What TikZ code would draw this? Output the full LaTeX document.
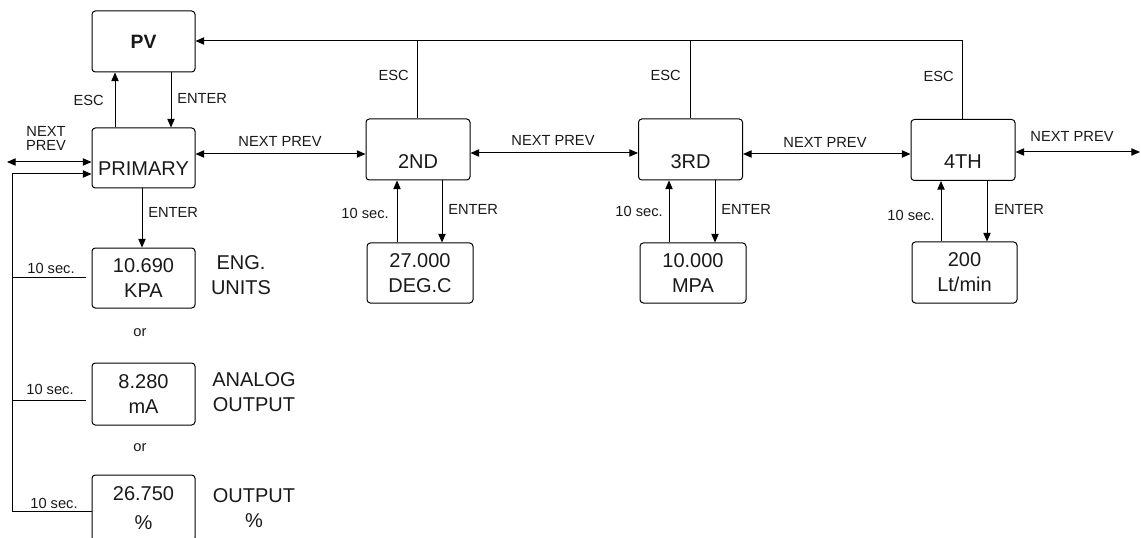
\documentclass[tikz,border=0pt]{standalone}
\usepackage{fontspec}
\setmainfont{Liberation Sans}
\usetikzlibrary{arrows.meta}
\begin{document}
\begin{tikzpicture}[x=0.75pt,y=-0.75pt,
  every node/.style={text=black!90},
  bx/.style={draw, rounded corners=2.5pt, line width=0.75pt, inner sep=0pt, font=\fontsize{15}{18.75}\selectfont, align=center},
  navbox/.style={bx, minimum width=78pt, minimum height=45.75pt, text height=28pt, text depth=0pt},
  valbox/.style={bx, minimum width=77.25pt, minimum height=45pt},
  lbl/.style={font=\fontsize{11}{13}\selectfont, inner sep=0pt},
  desc/.style={font=\fontsize{15}{18.5}\selectfont, align=center, inner sep=0pt},
  arr/.style={line width=0.75pt, -{Triangle[length=6.5pt,width=5.5pt]}},
  darr/.style={line width=0.75pt, {Triangle[length=6.5pt,width=5.5pt]}-{Triangle[length=6.5pt,width=5.5pt]}},
  ln/.style={line width=0.75pt}]
\useasboundingbox (0,0) rectangle (1141,538);
\clip (0,0) rectangle (1141,538);

% boxes
\node[bx, minimum width=77.25pt, minimum height=45.75pt, font=\bfseries\fontsize{14.5}{18}\selectfont] (pv) at (143.5,41.5) {PV};
\node[navbox, minimum width=77.25pt, minimum height=45pt, text height=27pt] (prim) at (143.5,158) {PRIMARY};
\node[navbox] (n2) at (418,149.5) {2ND};
\node[navbox] (n3) at (690.5,149.5) {3RD};
\node[navbox] (n4) at (963,150) {4TH};
\node[valbox, minimum width=79.5pt] (c2) at (420,273) {27.000\\DEG.C};
\node[valbox, minimum width=79.5pt] (c3) at (693,273) {10.000\\MPA};
\node[valbox, minimum width=78.75pt, minimum height=45.75pt] (c4) at (964.5,272.5) {200\\Lt/min};
\node[valbox] (v1) at (143.5,278) {10.690\\KPA};
\node[valbox, minimum height=46.5pt] (v2) at (143.5,394) {8.280\\mA};
\node[valbox, minimum height=49.5pt, font=\fontsize{15}{22}\selectfont] (v3) at (143.5,508) {26.750\\\%};

% PV <-> PRIMARY
\draw[arr] (prim.north -| 115,0) -- (pv.south -| 115,0);
\draw[arr] (pv.south -| 171,0) -- (prim.north -| 171,0);
\node[lbl, anchor=east] (escA) at (104,100) {ESC};
\node[lbl, anchor=west] (entA) at (177,98) {ENTER};

% NEXT PREV chain
\coordinate (lend) at (7,162);
\draw[darr] (lend) -- (prim.west |- lend);
\node[lbl, align=center, font=\fontsize{11}{10.5}\selectfont] (np0) at (46,138) {NEXT\\PREV};
\draw[darr] (prim.east |- 0,154) -- (n2.west |- 0,154);
\node[lbl] (np1) at (280,141) {NEXT PREV};
\draw[darr] (n2.east |- 0,153) -- (n3.west |- 0,153);
\node[lbl] (np2) at (553,140) {NEXT PREV};
\draw[darr] (n3.east |- 0,154) -- (n4.west |- 0,154);
\node[lbl] (np3) at (825,142) {NEXT PREV};
\coordinate (rend) at (1140,152);
\draw[darr] (n4.east |- rend) -- (rend);
\node[lbl] (np4) at (1072,136) {NEXT PREV};

% ESC return line
\coordinate (topr) at (962,41);
\draw[arr] (n4.north -| topr) -- (topr) -- (pv.east |- topr);
\draw[ln] (n2.north -| 417,0) -- (417,41);
\draw[ln] (n3.north -| 690,0) -- (690,41);
\node[lbl, anchor=east] (esc2) at (409,75) {ESC};
\node[lbl, anchor=east] (esc3) at (681,75) {ESC};
\node[lbl, anchor=east] (esc4) at (954,76) {ESC};

% children of 2ND, 3RD, 4TH
\draw[arr] (c2.north -| 397,0) -- (n2.south -| 397,0);
\draw[arr] (n2.south -| 442,0) -- (c2.north -| 442,0);
\draw[arr] (c3.north -| 669,0) -- (n3.south -| 669,0);
\draw[arr] (n3.south -| 715,0) -- (c3.north -| 715,0);
\draw[arr] (c4.north -| 941,0) -- (n4.south -| 941,0);
\draw[arr] (n4.south -| 987,0) -- (c4.north -| 987,0);
\node[lbl, anchor=east] (t2) at (389,213) {10 sec.};
\node[lbl, anchor=east] (t3) at (663,211) {10 sec.};
\node[lbl, anchor=east] (t4) at (935,215) {10 sec.};
\node[lbl, anchor=west] (e2) at (448,209) {ENTER};
\node[lbl, anchor=west] (e3) at (721,209) {ENTER};
\node[lbl, anchor=west] (e4) at (994,209) {ENTER};

% PRIMARY column
\draw[arr] (prim.south -| 142,0) -- (v1.north -| 142,0);
\node[lbl, anchor=west] (eP) at (148,212) {ENTER};
\coordinate (lb) at (12,511);
\coordinate (lt) at (12,174);
\draw[arr] (v3.west |- lb) -- (lb) -- (lt) -- (prim.west |- lt);
\coordinate (k1) at (86,277);
\coordinate (k2) at (86,400);
\draw[ln] (lt |- k1) -- (k1);
\draw[ln] (lt |- k2) -- (k2);
\node[lbl] (s1) at (51,268) {10 sec.};
\node[lbl] (s2) at (50,389) {10 sec.};
\node[lbl] (s3) at (54,503) {10 sec.};
\node[lbl] (or1) at (140,333) {or};
\node[lbl] (or2) at (140,448) {or};
\node[desc] (d1) at (241,275) {ENG.\\UNITS};
\node[desc] (d2) at (254,392) {ANALOG\\OUTPUT};
\node[desc] (d3) at (254,508) {OUTPUT\\\%};
\end{tikzpicture}
\end{document}
